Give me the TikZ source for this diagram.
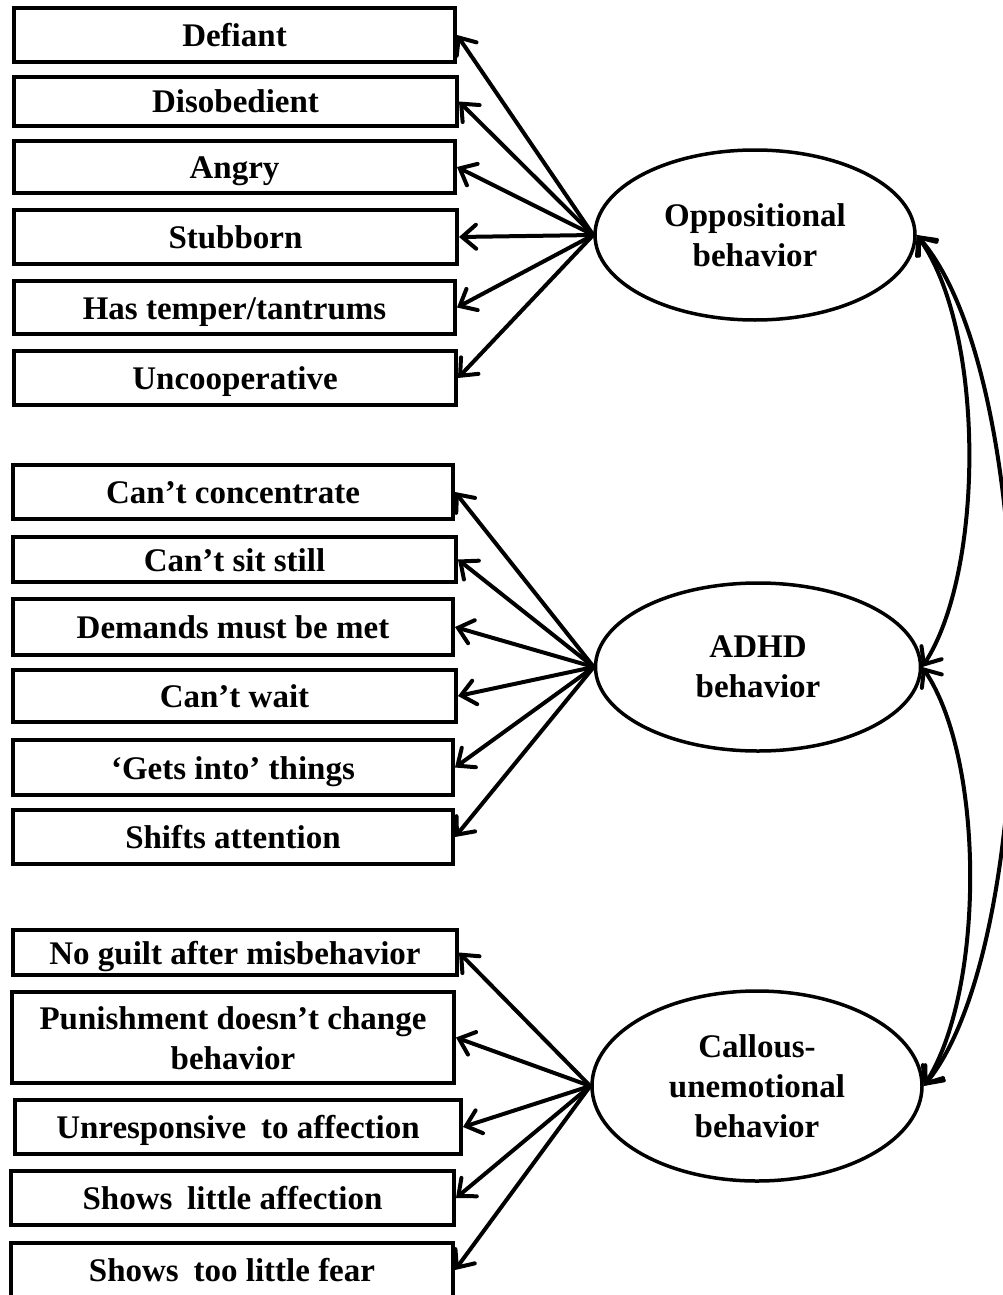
\documentclass[tikz,border=0pt]{standalone}
\usepackage{fontspec}
\setmainfont{Liberation Serif}
\usetikzlibrary{arrows.meta,shapes.geometric}
\tikzset{
  box/.style={draw, line width=4pt, inner sep=0pt, align=center,
    text height=23pt, text depth=0pt,
    font=\bfseries\fontsize{33}{40}\selectfont},
  latent/.style={draw, ellipse, line width=3.5pt, inner sep=0pt, align=center,
    font=\bfseries\fontsize{33}{40}\selectfont},
  tip/.tip={Straight Barb[length=14pt,width=24pt,line width=4pt,line cap=round]},
  load/.style={line width=4pt, -tip},
  cov/.style={line width=4pt, tip-tip}
}
\begin{document}
\begin{tikzpicture}[x=1pt,y=-1pt]
\useasboundingbox (0,0) rectangle (1003,1295);
\clip (0,0) rectangle (1003,1295);
\fill[white] (0,0) rectangle (1003,1295);
% boxes
\node[box, minimum width=441pt, minimum height=54pt] (b1) at (234.5,35) {Defiant};
\node[box, minimum width=443pt, minimum height=49pt] (b2) at (235.5,101.5) {Disobedient};
\node[box, minimum width=441pt, minimum height=52pt] (b3) at (234.5,167) {Angry};
\node[box, minimum width=443pt, minimum height=54pt] (b4) at (235.5,237) {Stubborn};
\node[box, minimum width=441pt, minimum height=53pt] (b5) at (234.5,307.5) {Has temper/tantrums};
\node[box, minimum width=442pt, minimum height=54pt] (b6) at (235,378) {Uncooperative};
\node[box, minimum width=440pt, minimum height=54pt] (b7) at (233,492) {Can’t concentrate};
\node[box, minimum width=443pt, minimum height=45pt] (b8) at (234.5,559.5) {Can’t sit still};
\node[box, minimum width=440pt, minimum height=56pt] (b9) at (233,627) {Demands must be met};
\node[box, minimum width=443pt, minimum height=52pt] (b10) at (234.5,696) {Can’t wait};
\node[box, minimum width=440pt, minimum height=55pt] (b11) at (233,767.5) {‘Gets into’ things};
\node[box, minimum width=440pt, minimum height=54pt] (b12) at (233,837) {Shifts attention};
\node[box, minimum width=444pt, minimum height=45pt] (b13) at (235,952.5) {No guilt after misbehavior};
\node[box, minimum width=442pt, minimum height=91pt, text height=63pt] (b14) at (233,1037.5) {Punishment doesn’t change\\behavior};
\node[box, minimum width=446pt, minimum height=54pt] (b15) at (238,1127) {Unresponsive\hspace{0.2em} to affection};
\node[box, minimum width=443pt, minimum height=54pt] (b16) at (232.5,1198) {Shows\hspace{0.2em} little affection};
\node[box, minimum width=442pt, minimum height=54pt] (b17) at (232,1270) {Shows\hspace{0.2em} too little fear};
% latent variables
\node[latent, minimum width=320pt, minimum height=170pt] (o) at (755,235) {Oppositional\\behavior};
\node[latent, minimum width=325pt, minimum height=168pt] (a) at (758,667) {ADHD\\behavior};
\node[latent, minimum width=330pt, minimum height=190pt] (c) at (757,1086) {Callous-\\unemotional\\behavior};
% loadings
\foreach \i in {1,...,6} \draw[load] (o.west) -- (b\i.east);
\foreach \i in {7,...,12} \draw[load] (a.west) -- (b\i.east);
\foreach \i in {13,...,17} \draw[load] (c.west) -- (b\i.east);
% covariances
\draw[cov] (o.east) .. controls (985,330) and (985,570) .. (a.east);
\draw[cov] (a.east) .. controls (985,760) and (985,990) .. (c.east);
\draw[cov] (o.east) .. controls (1043,380) and (1043,940) .. (c.east);
\end{tikzpicture}
\end{document}
